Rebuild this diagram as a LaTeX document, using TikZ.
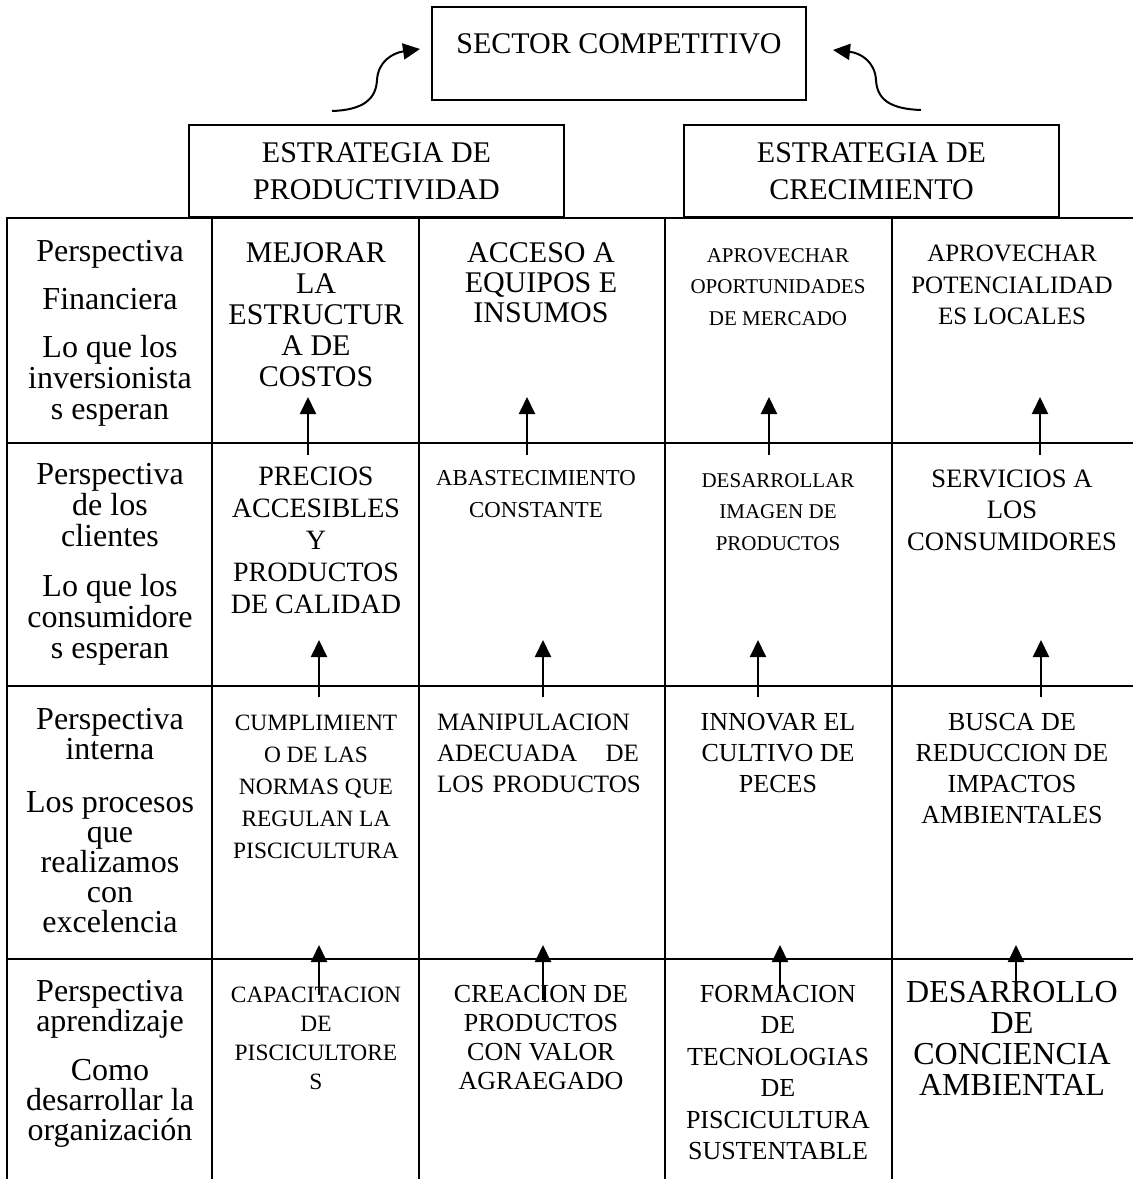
\documentclass[tikz,border=0pt]{standalone}
\usepackage{fontspec}
\setmainfont{Liberation Serif}
\usepackage{tikz}
\usetikzlibrary{arrows.meta}
\newcommand{\cellfont}[2]{\fontsize{#1}{#2}\selectfont}

\begin{document}
\begin{tikzpicture}[x=0.5pt, y=-0.5pt,
  grid/.style={line width=1pt, color=black},
  topbox/.style={rectangle, draw=black, line width=0.75pt, minimum width=187.5pt, inner sep=0pt, align=center},
  cell/.style={anchor=north, inner sep=0pt, align=center},
  flow/.style={-{Triangle[length=8.5pt,width=8pt]}, line width=1pt}
]
\useasboundingbox (0,0) rectangle (1133,1179);

% Top: sector and the two strategies
\node[topbox, minimum width=187pt, text height=23pt, text depth=23.5pt, anchor=base, font=\cellfont{15}{18}] (sector) at (619,53) {SECTOR COMPETITIVO};
\node[topbox, minimum height=46pt, font=\cellfont{15}{18.5}] (prod) at (376.5,171) {ESTRATEGIA DE\\PRODUCTIVIDAD};
\node[topbox, minimum height=46pt, font=\cellfont{15}{18.5}] (crec) at (871.5,171) {ESTRATEGIA DE\\CRECIMIENTO};

% Curved arrows up to the sector box
\coordinate (lfrom) at (332,111);
\coordinate (lto) at (420,49);
\coordinate (rfrom) at (921,110);
\coordinate (rto) at (833,50);
\draw[flow] (lfrom) .. controls (362,110) and (376,100) .. (377,80) .. controls (378,62) and (392,53) .. (lto);
\draw[flow] (rfrom) .. controls (891,109) and (877,100) .. (876,80) .. controls (875,62) and (861,53) .. (rto);

% Table frame
\draw[grid] (7,1179) -- (7,218) -- (1133,218);
\foreach \y in {443,686,959} \draw[grid] (7,\y) -- (1133,\y);
\foreach \x in {212,419,665,892} \draw[grid] (\x,218) -- (\x,1179);

% Row 1: Perspectiva financiera
\node[cell, font=\cellfont{16}{15.5}] (fin) at (110,240) {Perspectiva\\[8.5pt]Financiera\\[8.5pt]Lo que los\\inversionista\\s esperan};
\node[cell, font=\cellfont{15}{15.5}] (costos) at (316,242) {MEJORAR\\LA\\ESTRUCTUR\\A DE\\COSTOS};
\node[cell, font=\cellfont{15}{15}] (equipos) at (541,242) {ACCESO A\\EQUIPOS E\\INSUMOS};
\node[cell, font=\cellfont{10.5}{15.75}] (mercado) at (778,248) {APROVECHAR\\OPORTUNIDADES\\DE MERCADO};
\node[cell, font=\cellfont{12.5}{15.75}] (locales) at (1012,245) {APROVECHAR\\POTENCIALIDAD\\ES LOCALES};

% Row 2: Perspectiva de los clientes
\node[cell, font=\cellfont{16}{15.5}] (cli) at (110,463) {Perspectiva\\de los\\clientes\\[9.5pt]Lo que los\\consumidore\\s esperan};
\node[cell, font=\cellfont{14}{16}] (precios) at (316,466.5) {PRECIOS\\ACCESIBLES\\Y\\PRODUCTOS\\DE CALIDAD};
\node[cell, font=\cellfont{11.4}{16}] (abast) at (536,470) {ABASTECIMIENTO\\CONSTANTE};
\node[cell, font=\cellfont{10.5}{15.75}] (imagen) at (778,473) {DESARROLLAR\\IMAGEN DE\\PRODUCTOS};
\node[cell, font=\cellfont{13.3}{15.75}] (servicios) at (1012,469) {SERVICIOS A\\LOS\\CONSUMIDORES};

% Row 3: Perspectiva interna
\node[cell, font=\cellfont{16}{15}] (interna) at (110,708) {Perspectiva\\interna\\[11.5pt]Los procesos\\que\\realizamos\\con\\excelencia};
\node[cell, font=\cellfont{11.7}{16}] (normas) at (316,714.5) {CUMPLIMIENT\\O DE LAS\\NORMAS QUE\\REGULAN LA\\PISCICULTURA};
\node[cell, text width=101pt, align=left, font=\cellfont{12.5}{15.5}] (manip) at (538,713.4) {MANIPULACION\\\leavevmode\hbox to\linewidth{ADECUADA\hfill DE}\\\mbox{LOS PRODUCTOS}};
\node[cell, font=\cellfont{13}{15.5}] (peces) at (778,712.8) {INNOVAR EL\\CULTIVO DE\\PECES};
\node[cell, font=\cellfont{13}{15.5}] (impactos) at (1012,712.8) {BUSCA DE\\REDUCCION DE\\IMPACTOS\\AMBIENTALES};

% Row 4: Perspectiva aprendizaje
\node[cell, font=\cellfont{16}{15}] (apre) at (110,980) {Perspectiva\\aprendizaje\\[9.5pt]Como\\desarrollar la\\organización};
\node[cell, font=\cellfont{11.7}{14.5}] (capac) at (316,986.5) {CAPACITACION\\DE\\PISCICULTORE\\S};
\node[cell, font=\cellfont{13}{14.5}] (valor) at (541,984.8) {CREACION DE\\PRODUCTOS\\CON VALOR\\AGRAEGADO};
\node[cell, font=\cellfont{13}{15.75}] (tecno) at (778,984.8) {FORMACION\\DE\\TECNOLOGIAS\\DE\\PISCICULTURA\\SUSTENTABLE};
\node[cell, font=\cellfont{16}{15.5}] (concien) at (1012,980.8) {DESARROLLO\\DE\\CONCIENCIA\\AMBIENTAL};

% Arrows between perspectives
\foreach \k/\x/\ya/\yb in {a/308/455/397, b/527/455/397, c/769/455/397, d/1040/455/397,
  e/319/697/640, f/543/697/640, g/758/697/640, h/1041/697/640,
  i/319/995/945, j/543/1000/945, k/780/993/945, l/1016/997/945}{
  \coordinate (s\k) at (\x,\ya);
  \coordinate (e\k) at (\x,\yb);
  \draw[flow] (s\k) -- (e\k);
}

\end{tikzpicture}
\end{document}
